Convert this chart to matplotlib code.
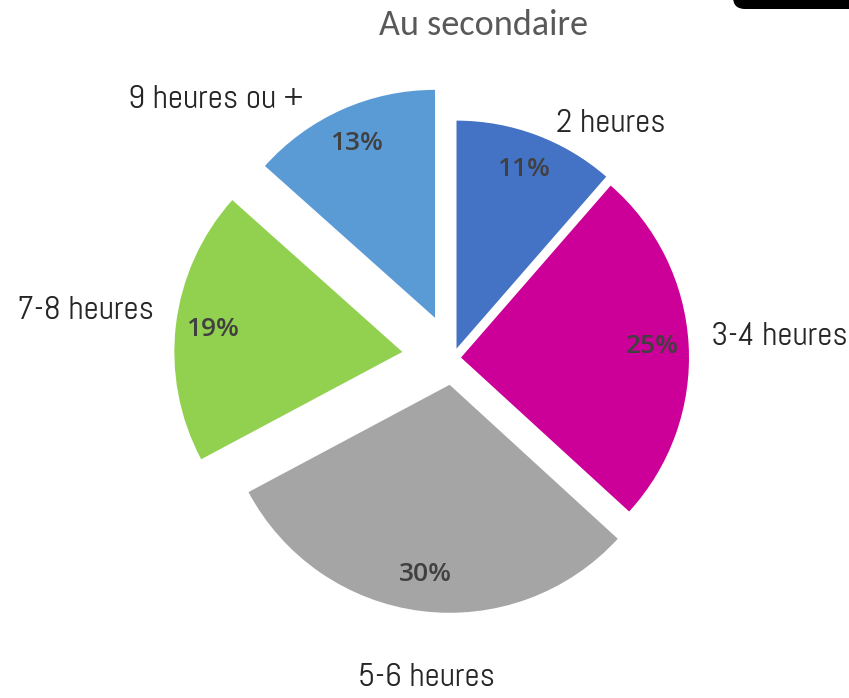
import matplotlib
matplotlib.use("Agg")
import matplotlib.pyplot as plt
from matplotlib.patches import FancyBboxPatch

categories = ["2 heures", "3-4 heures", "5-6 heures", "7-8 heures", "9 heures ou +"]
values = [11.4, 25.4, 30.4, 19.4, 13.4]
colors = ["#4472C4", "#CC0099", "#A5A5A5", "#92D050", "#5B9BD5"]
explode_px = [10, 8, 27, 51, 44]
title = "Au secondaire"

W, H = 849, 698
fig = plt.figure(figsize=(W / 100, H / 100), dpi=100)
ax = fig.add_axes([0, 0, 1, 1])

R = 228
cx, cy = 453, H - 358
wedges, texts, autotexts = ax.pie(
    values, colors=colors, startangle=90, counterclock=False,
    explode=explode_px, radius=R, center=(cx, cy),
    autopct="%.0f%%", pctdistance=0.84,
    textprops=dict(color="#404040", fontsize=19, fontweight="semibold",
                   family=["Open Sans", "DejaVu Sans"]),
    wedgeprops=dict(linewidth=0),
)

ax.set_xlim(0, W)
ax.set_ylim(0, H)
ax.set_aspect("equal")
ax.axis("off")

label_pos = [(611, 124), (779, 337), (427, 678), (86, 311), (216, 100)]
for name, (x, y) in zip(categories, label_pos):
    ax.text(x, H - y, name, ha="center", va="center", fontsize=24,
            family=["Abel", "DejaVu Sans"], color="#262626")

ax.text(484, H - 25, title, ha="center", va="center", fontsize=26,
        family=["Carlito", "Open Sans", "DejaVu Sans"], color="#595959")

box = FancyBboxPatch((733, H - 9), 200, 40, boxstyle="round,pad=0,rounding_size=12",
                     facecolor="black", edgecolor="black", linewidth=0, clip_on=False)
ax.add_patch(box)

fig.savefig("out.png", dpi=100)
